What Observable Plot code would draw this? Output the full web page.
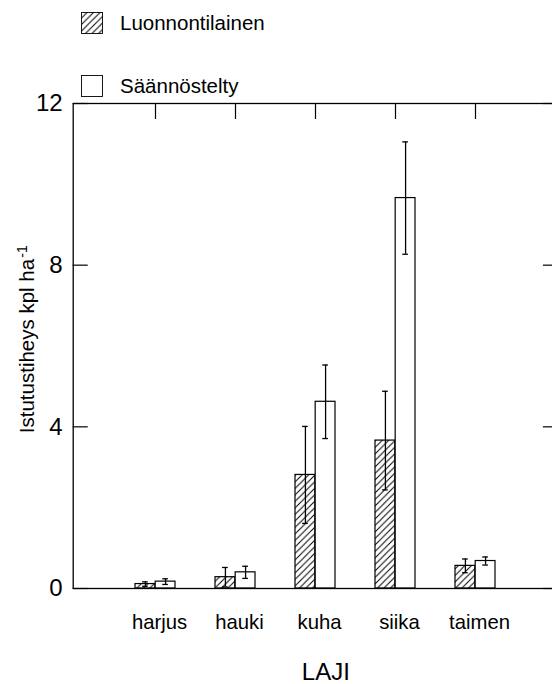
<!DOCTYPE html>
<html><head><meta charset="utf-8">
<script src="https://cdn.jsdelivr.net/npm/d3@7"></script>
<script src="https://cdn.jsdelivr.net/npm/@observablehq/plot@0.6"></script>
<style>
html,body{margin:0;padding:0;background:#fff;overflow:hidden;}
body{width:552px;height:684px;position:relative;font-family:"Liberation Sans",Arial,Helvetica,sans-serif;color:#000;}
#legend{position:relative;height:88px;}
.sw{position:absolute;left:80.5px;width:22px;height:22px;}
.lab{position:absolute;left:120px;font-size:20.5px;line-height:20.5px;white-space:nowrap;}
#chart svg{overflow:hidden;display:block;}
</style></head><body>
<svg width="0" height="0" style="position:absolute"><defs>
<pattern id="hatch" patternUnits="userSpaceOnUse" width="6.5" height="6.5">
<path d="M-1,1 L1,-1 M0,6.5 L6.5,0 M5.5,7.5 L7.5,5.5" stroke="#000" stroke-width="1"/>
</pattern></defs></svg>
<div id="legend"></div>
<div id="chart"></div>
<script>
// ---- data ----
const species = ["harjus", "hauki", "kuha", "siika", "taimen"];
const naturalMean = [0.11, 0.28, 2.81, 3.66, 0.56];
const naturalErr  = [0.055, 0.24, 1.20, 1.22, 0.17];
const regulatedMean = [0.17, 0.40, 4.62, 9.66, 0.68];
const regulatedErr  = [0.07, 0.15, 0.91, 1.39, 0.10];
const yTicks = [0, 4, 8, 12];
const seriesNames = ["Luonnontilainen", "Säännöstelty"];
const xTitle = "LAJI";
const yTitle = "Istutustiheys kpl ha";
const yTitleSup = "-1";

const natural = species.map((laji, i) => ({laji, value: naturalMean[i], lo: naturalMean[i] - naturalErr[i], hi: naturalMean[i] + naturalErr[i]}));
const regulated = species.map((laji, i) => ({laji, value: regulatedMean[i], lo: regulatedMean[i] - regulatedErr[i], hi: regulatedMean[i] + regulatedErr[i]}));

// ---- legend ----
const legend = document.getElementById("legend");
const fills = ["url(#hatch)", "white"];
const swTops = [12.3, 75];
seriesNames.forEach((name, i) => {
  const sw = document.createElementNS("http://www.w3.org/2000/svg", "svg");
  sw.setAttribute("class", "sw");
  sw.style.top = swTops[i] + "px";
  sw.innerHTML = `<rect x="0.5" y="0.5" width="21" height="21" fill="${fills[i]}" stroke="#000" stroke-width="0.9"/>`;
  legend.appendChild(sw);
  const lab = document.createElement("div");
  lab.className = "lab";
  lab.style.top = (swTops[i] + 1) + "px";
  lab.textContent = name;
  legend.appendChild(lab);
});

// ---- chart ----
const half = 20.17; // half of the band width, px
const chart = Plot.plot({
  width: 552,
  height: 596,
  marginTop: 15,
  marginBottom: 96,
  marginLeft: 72.7,
  marginRight: -4.9,
  style: {fontFamily: "Liberation Sans, Arial, sans-serif", fontSize: "20px", color: "black", background: "white", overflow: "hidden"},
  x: {type: "band", domain: species, paddingInner: 0.5, paddingOuter: 0.75, axis: null},
  y: {domain: [0, 12], axis: null},
  marks: [
    Plot.barY(natural, {x: "laji", y: "value", fill: "url(#hatch)", stroke: "black", strokeWidth: 1.2, insetRight: half}),
    Plot.barY(regulated, {x: "laji", y: "value", fill: "white", stroke: "black", strokeWidth: 1.2, insetLeft: half}),
    Plot.ruleX(natural, {x: "laji", y1: "lo", y2: "hi", dx: -half / 2, stroke: "black", strokeWidth: 1.3}),
    Plot.ruleX(regulated, {x: "laji", y1: "lo", y2: "hi", dx: half / 2, stroke: "black", strokeWidth: 1.3}),
    Plot.tickY(natural, {x: "laji", y: "hi", insetLeft: half / 2 - 3, insetRight: half * 1.5 - 3, stroke: "black", strokeWidth: 1.3}),
    Plot.tickY(natural, {x: "laji", y: "lo", insetLeft: half / 2 - 3, insetRight: half * 1.5 - 3, stroke: "black", strokeWidth: 1.3}),
    Plot.tickY(regulated, {x: "laji", y: "hi", insetLeft: half * 1.5 - 3, insetRight: half / 2 - 3, stroke: "black", strokeWidth: 1.3}),
    Plot.tickY(regulated, {x: "laji", y: "lo", insetLeft: half * 1.5 - 3, insetRight: half / 2 - 3, stroke: "black", strokeWidth: 1.3}),
    Plot.frame({stroke: "black", strokeWidth: 1.3}),
    Plot.axisY({anchor: "left", ticks: yTicks, tickSize: -15, tickPadding: 25.5, fontSize: 24, strokeWidth: 1.2, label: null}),
    Plot.axisY({anchor: "right", ticks: yTicks, tickSize: -15, tickFormat: () => "", strokeWidth: 1.2, label: null}),
    Plot.axisX({anchor: "top", tickSize: -15, tickFormat: () => "", strokeWidth: 1.2, label: null}),
    Plot.axisX({anchor: "bottom", tickSize: 0, tickPadding: 26, fontSize: 20.3, dx: 4, label: null}),
    Plot.text([xTitle], {frameAnchor: "bottom", textAnchor: "middle", lineAnchor: "top", dx: 10.5, dy: 74.5, fontSize: 24}),
    Plot.text([yTitle], {frameAnchor: "left", textAnchor: "middle", lineAnchor: "middle", rotate: -90, dx: -45.8, fontSize: 20.5}),
    Plot.text([yTitleSup], {frameAnchor: "top-left", textAnchor: "middle", lineAnchor: "middle", rotate: -90, dx: -50.7, dy: 148, fontSize: 14})
  ]
});
document.getElementById("chart").appendChild(chart);
</script>
</body></html>
